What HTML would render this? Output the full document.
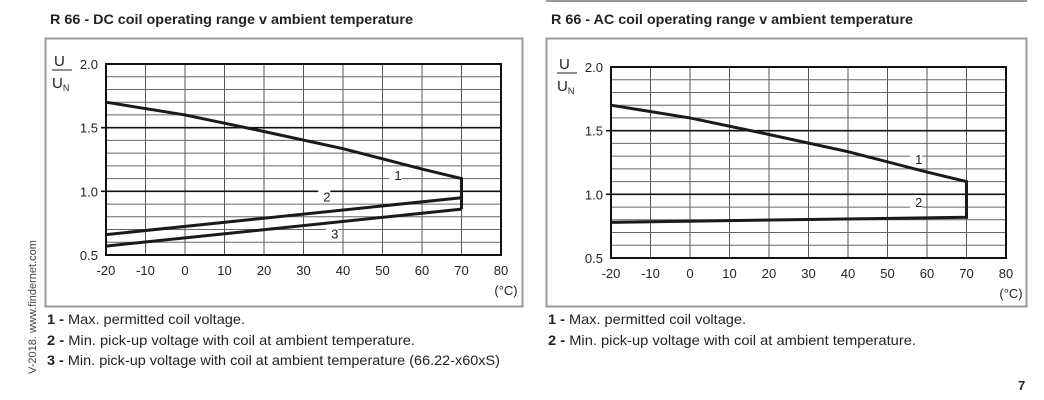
<!DOCTYPE html>
<html><head><meta charset="utf-8"><style>
body{margin:0;background:#fff;width:1044px;height:400px;overflow:hidden}
svg{display:block;font-family:"Liberation Sans",sans-serif}
</style></head><body>
<svg id="s" width="1044" height="400" viewBox="0 0 1044 400" xmlns="http://www.w3.org/2000/svg">
<line x1="546" y1="1" x2="1027" y2="1" stroke="#999" stroke-width="2"/>
<text x="50" y="24" font-size="14" font-weight="bold" fill="#222" textLength="363" lengthAdjust="spacingAndGlyphs">R 66 - DC coil operating range v ambient temperature</text>
<text x="551" y="24" font-size="14" font-weight="bold" fill="#222" textLength="362" lengthAdjust="spacingAndGlyphs">R 66 - AC coil operating range v ambient temperature</text>
<rect x="45.5" y="38.5" width="477" height="268" fill="none" stroke="#999" stroke-width="2"/>
<rect x="546.5" y="38.5" width="480" height="268" fill="none" stroke="#999" stroke-width="2"/>
<g id="c1"></g><g id="c2"></g>
<g font-size="14" fill="#222">
<text x="47" y="324" textLength="198" lengthAdjust="spacingAndGlyphs"><tspan font-weight="bold">1 -</tspan> Max. permitted coil voltage.</text>
<text x="47" y="345" textLength="368" lengthAdjust="spacingAndGlyphs"><tspan font-weight="bold">2 -</tspan> Min. pick-up voltage with coil at ambient temperature.</text>
<text x="47" y="365" textLength="453" lengthAdjust="spacingAndGlyphs"><tspan font-weight="bold">3 -</tspan> Min. pick-up voltage with coil at ambient temperature (66.22-x60xS)</text>
<text x="548" y="324" textLength="198" lengthAdjust="spacingAndGlyphs"><tspan font-weight="bold">1 -</tspan> Max. permitted coil voltage.</text>
<text x="548" y="345" textLength="368" lengthAdjust="spacingAndGlyphs"><tspan font-weight="bold">2 -</tspan> Min. pick-up voltage with coil at ambient temperature.</text>
</g>
<text transform="translate(36,374) rotate(-90)" font-size="11" fill="#444">V-2018.  www.findernet.com</text>
<text x="1018" y="390" font-size="13" font-weight="bold" fill="#222">7</text>
</svg>
<script>
function chart(id,L,R,T,B,series,labels){
 const g=document.getElementById(id);let h='';
 const X=t=>L+(t+20)*(R-L)/100;
 const Y=v=>B-(v-0.5)/1.5*(B-T);
 for(let i=1;i<10;i++){const x=L+i*(R-L)/10;h+=`<line x1="${x}" y1="${T}" x2="${x}" y2="${B}" stroke="#555" stroke-width="1"/>`;}
 for(let i=1;i<15;i++){const y=T+i*(B-T)/15;const maj=(i==5||i==10);
  h+=`<line x1="${maj?L-5:L}" y1="${y}" x2="${R}" y2="${y}" stroke="${maj?'#111':'#666'}" stroke-width="${maj?1.6:1}"/>`;}
 h+=`<rect x="${L}" y="${T}" width="${R-L}" height="${B-T}" fill="none" stroke="#111" stroke-width="2"/>`;
 for(const [t,lab] of labels){const [x,y]=[X(t[0]),Y(t[1])];
  h+=`<rect x="${x-5}" y="${y-8}" width="12" height="13" fill="#fff"/><text x="${x}" y="${y+4}" font-size="13" fill="#222">${lab}</text>`;}
 for(const s of series){h+=`<polyline points="${s.map(p=>X(p[0])+','+Y(p[1])).join(' ')}" fill="none" stroke="#1a1a1a" stroke-width="3" stroke-linejoin="miter"/>`;}
 ['2.0','1.5','1.0','0.5'].forEach((v,i)=>{h+=`<text x="${L-8}" y="${Y(parseFloat(v))+5}" font-size="13" fill="#222" text-anchor="end">${v}</text>`;});
 for(let t=-20;t<=80;t+=10)h+=`<text x="${X(t)}" y="${B+20}" font-size="13" fill="#222" text-anchor="middle">${t}</text>`;
 h+=`<text x="${R+5}" y="${B+40}" font-size="13" fill="#222" text-anchor="middle">(°C)</text>`;
 h+=`<text x="${L-52}" y="${T+2}" font-size="15" fill="#222">U</text><line x1="${L-54}" y1="${T+6}" x2="${L-34}" y2="${T+6}" stroke="#222"/><text x="${L-54}" y="${T+24}" font-size="15" fill="#222">U<tspan font-size="9" dy="3">N</tspan></text>`;
 g.innerHTML=h;
}
const top1=[[-20,1.7],[0,1.6],[20,1.47],[40,1.335],[60,1.175],[70,1.1]];
chart('c1',106,501,64,255,[
 [...top1,[70,0.86]],
 [[-20,0.66],[70,0.95]],
 [[70,0.86],[-20,0.57]]
],[[[53,1.12],'1'],[[35,0.95],'2'],[[37,0.66],'3']]);
chart('c2',611,1006,67,258,[
 [...top1,[70,0.82],[-20,0.78]]
],[[[57,1.27],'1'],[[57,0.93],'2']]);
</script>
</body></html>
